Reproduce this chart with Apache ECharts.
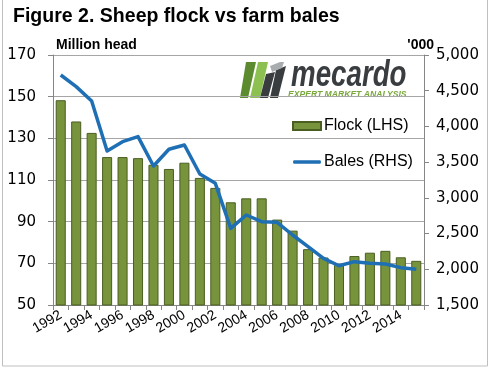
<!DOCTYPE html>
<html>
<head>
<meta charset="utf-8">
<script src="https://cdn.jsdelivr.net/npm/echarts@6/dist/echarts.min.js"></script>
<style>
html,body{margin:0;padding:0;background:#fff;}
#c{width:491px;height:367px;}
</style>
</head>
<body>
<div id="c"></div>
<script>
var years = ['1992','1993','1994','1995','1996','1997','1998','1999','2000','2001','2002','2003','2004','2005','2006','2007','2008','2009','2010','2011','2012','2013','2014','2015'];
var flock = [148.3,138.1,132.6,121,121,120.5,117.3,115.3,118.3,111,106.2,99.3,101.2,101.2,91,85.7,76.8,72.8,69.2,73.5,75.1,76,72.9,71.2];
var bales = [4720,4557,4356,3656,3787,3857,3446,3680,3740,3334,3203,2573,2760,2667,2657,2480,2317,2153,2050,2107,2083,2075,2023,2000];
var leftTicks = {min:50, max:170, interval:20};
var rightTicks = {min:1500, max:5000, interval:500};

var FONT = '"Liberation Sans", Arial, sans-serif';
var AXF = '"DejaVu Sans", "Liberation Sans", sans-serif';
var lineIcon = 'path://M0,0 L0.01,0 L0.01,0.01 Z M1,2.3 L27,2.3 Q28,2.3 28,4 Q28,5.7 27,5.7 L1,5.7 Q0,5.7 0,4 Q0,2.3 1,2.3 Z M0,8 L0.01,8 L0.01,7.99 Z';
var chart = echarts.init(document.getElementById('c'), null, {renderer:'canvas'});
var option = {
  animation:false,
  backgroundColor:'#ffffff',
  textStyle:{fontFamily:FONT},
  grid:{left:53, right:67, top:55, bottom:62, containLabel:false},
  legend:{
    orient:'vertical', left:292, top:117, padding:0,
    itemWidth:28, itemHeight:8, itemGap:18,
    textStyle:{fontSize:16, color:'#000', fontFamily:FONT, lineHeight:18, padding:[0,0,0,-2]},
    data:[{name:'Flock (LHS)', icon:'rect'},{name:'Bales (RHS)', icon:lineIcon}]
  },
  xAxis:{
    type:'category', data:years, boundaryGap:true,
    axisLine:{lineStyle:{color:'#868686', width:1}},
    axisTick:{show:true, interval:0, length:5, lineStyle:{color:'#868686'}},
    axisLabel:{interval:1, rotate:30, fontSize:14, color:'#000', margin:9, fontFamily:FONT}
  },
  yAxis:[{
    type:'value', min:leftTicks.min, max:leftTicks.max, interval:leftTicks.interval,
    axisLine:{show:true, lineStyle:{color:'#868686'}},
    axisTick:{show:true, length:5, lineStyle:{color:'#868686'}},
    axisLabel:{fontSize:15, color:'#000', margin:17, fontFamily:AXF},
    splitLine:{show:true, lineStyle:{color:'#a6a6a6', width:1}}
  },{
    type:'value', min:rightTicks.min, max:rightTicks.max, interval:rightTicks.interval,
    position:'right',
    axisLine:{show:true, lineStyle:{color:'#868686'}},
    axisTick:{show:true, length:5, lineStyle:{color:'#868686'}},
    axisLabel:{fontSize:15, color:'#000', margin:12, fontFamily:AXF,
      formatter:function(v){return v.toLocaleString('en-US');}},
    splitLine:{show:false}
  }],
  series:[{
    name:'Flock (LHS)', type:'bar', yAxisIndex:0, data:flock,
    barCategoryGap:'35%',
    itemStyle:{color:'#77933c', borderColor:'#4a5e22', borderWidth:1}
  },{
    name:'Bales (RHS)', type:'line', yAxisIndex:1, data:bales,
    symbol:'none', z:5,
    lineStyle:{color:'#1f6fb5', width:3.5, join:'round'},
    itemStyle:{color:'#1f6fb5'}
  }],
  graphic:[
    {type:'rect', shape:{x:2.5,y:-1,width:485,height:367}, style:{fill:'none', stroke:'#bfbfbf', lineWidth:1}, silent:true, z:0},
    {type:'text', x:13, y:6, scaleX:0.93, style:{text:'Figure 2. Sheep flock vs farm bales', font:'bold 21px '+FONT, fill:'#000'}},
    {type:'text', x:56, y:38, style:{text:'Million head', font:'bold 14px '+FONT, fill:'#000'}},
    {type:'text', x:434, y:38, style:{text:"'000", font:'bold 14px '+FONT, fill:'#000', textAlign:'right'}},
    {type:'group', z:50, children:[
      {type:'rect', shape:{x:234, y:58, width:184, height:44}, style:{fill:'#ffffff'}},
      {type:'polygon', shape:{points:[[246,62],[256,62],[248,98],[240,98]]}, style:{fill:'#5c8a2e'}},
      {type:'polygon', shape:{points:[[258,62],[268,62],[260,98],[250,98]]}, style:{fill:'#8cc152'}},
      {type:'polygon', shape:{points:[[266,74],[275,72],[268,98],[260,98]]}, style:{fill:'#3a3d40'}},
      {type:'polygon', shape:{points:[[276,70],[286,66],[278,98],[270,98]]}, style:{fill:'#3a3d40'}},
      {type:'polygon', shape:{points:[[270,66],[280,62],[284,62],[282,68],[272,72]]}, style:{fill:'#a9acae'}},
      {type:'text', x:291, y:58, scaleX:0.77, style:{text:'mecardo', font:'italic bold 36px '+FONT, fill:'#3a3d40'}},
      {type:'text', x:288, y:90, style:{text:'EXPERT MARKET ANALYSIS', font:'italic bold 8.6px '+FONT, fill:'#7aa83c'}}
    ]}
  ]
};
chart.setOption(option);
</script>
</body>
</html>
